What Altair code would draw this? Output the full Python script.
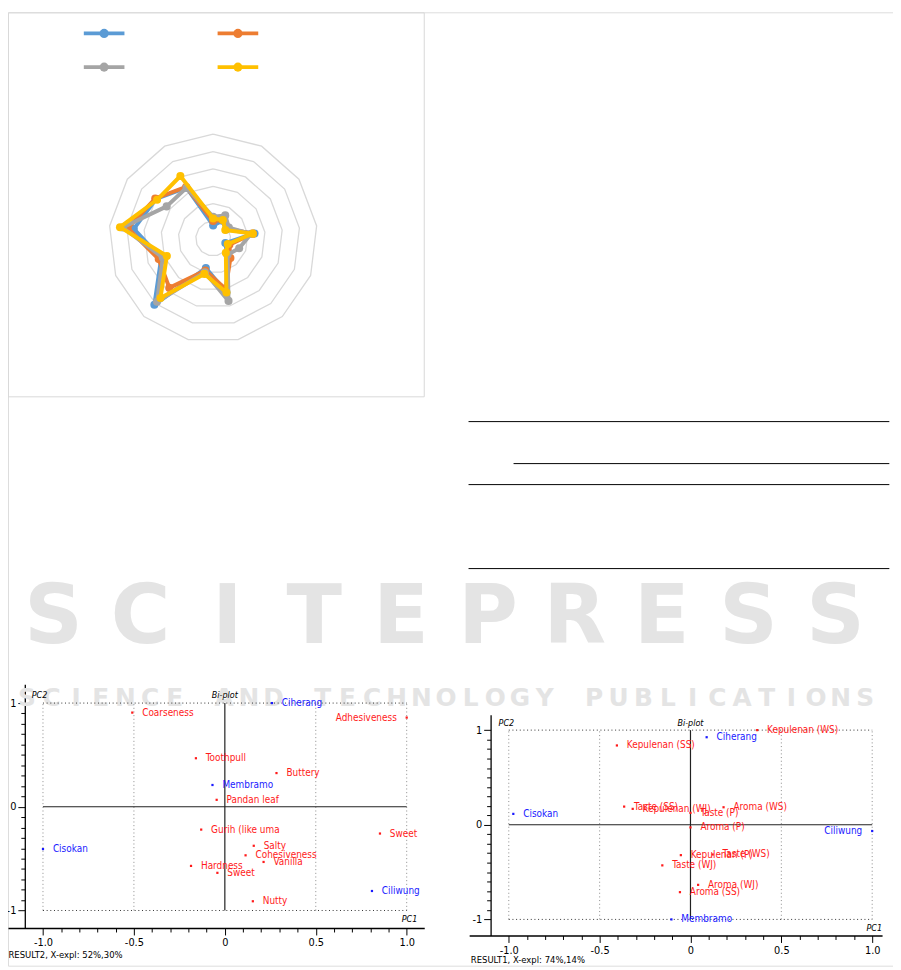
import altair as alt
import numpy as np
import pandas as pd

# ------------------------------------------------------------------ page
W, H = 893, 962
PAGE = 8  # the chart origin sits at page (8, 8)
NARROW = "'Liberation Sans Narrow', 'DejaVu Sans Condensed', 'Liberation Sans', sans-serif"

# ------------------------------------------------------------------ radar data
RADAR_ATTRIBUTES = ["Coarseness", "Adhesiveness", "Toothpull", "Buttery", "Pandan leaf",
                    "Gurih", "Sweet", "Salty", "Cohesiveness", "Vanilla", "Hardness",
                    "Sweet (2)", "Nutty"]
RADAR_RINGS = [1, 2, 3, 4, 5, 6]
SERIES_NAMES = ["Series 1", "Series 2", "Series 3", "Series 4"]
SERIES_COLORS = ["#5B9BD5", "#ED7D31", "#A5A5A5", "#FFC000"]
SERIES_1 = [0.75, 1.15, 0.90, 2.40, 0.75, 1.20, 3.20, 1.75, 5.10, 3.20, 4.60, 4.00, 3.30]
SERIES_2 = [1.00, 1.20, 1.00, 2.30, 1.00, 1.50, 3.00, 1.90, 3.80, 3.35, 4.95, 4.05, 3.35]
SERIES_3 = [1.25, 1.50, 1.10, 2.20, 1.60, 1.25, 3.70, 2.00, 4.87, 3.10, 5.25, 3.25, 3.30]
SERIES_4 = [1.15, 1.20, 0.85, 2.30, 0.90, 1.10, 3.20, 2.10, 4.57, 2.85, 5.40, 3.92, 4.06]
LEGEND_COL = [0, 1, 0, 1]
LEGEND_ROW = [0, 0, 1, 1]

# ------------------------------------------------------------------ bi-plot RESULT2
R2_NAMES = ["Ciherang", "Coarseness", "Adhesiveness", "Toothpull", "Buttery", "Membramo",
            "Pandan leaf", "Gurih (like uma", "Sweet", "Cisokan", "Salty", "Cohesiveness",
            "Vanilla", "Hardness", "Sweet", "Ciliwung", "Nutty"]
R2_PC1 = [0.259, -0.509, 1.000, -0.159, 0.284, -0.068, -0.045, -0.130, 0.853, -1.000,
          0.159, 0.114, 0.213, -0.186, -0.041, 0.809, 0.154]
R2_PC2 = [1.000, 0.908, 0.860, 0.468, 0.325, 0.210, 0.067, -0.220, -0.258, -0.408,
          -0.376, -0.468, -0.532, -0.570, -0.637, -0.812, -0.911]
R2_KIND = ["cultivar", "attr", "attr", "attr", "attr", "cultivar", "attr", "attr", "attr",
           "cultivar", "attr", "attr", "attr", "attr", "attr", "cultivar", "attr"]
R2_LABEL_LEFT = ["Adhesiveness"]
R2_CAPTION = "RESULT2, X-expl: 52%,30%"

# ------------------------------------------------------------------ bi-plot RESULT1
R1_NAMES = ["Kepulenan (WS)", "Ciherang", "Kepulenan (SS)", "Taste (SS)", "Kepulenan (WJ)",
            "Aroma (WS)", "Taste (P)", "Cisokan", "Aroma (P)", "Ciliwung", "Kepulenan (P)",
            "Taste (WS)", "Taste (WJ)", "Aroma (WJ)", "Aroma (SS)", "Membramo"]
R1_PC1 = [0.367, 0.089, -0.405, -0.365, -0.318, 0.182, 0.000, -0.975, 0.000, 1.000,
          -0.053, 0.122, -0.155, 0.042, -0.058, -0.105]
R1_PC2 = [1.000, 0.925, 0.838, 0.192, 0.168, 0.185, 0.126, 0.115, -0.028, -0.066,
          -0.321, -0.314, -0.429, -0.635, -0.712, -1.000]
R1_KIND = ["attr", "cultivar", "attr", "attr", "attr", "attr", "attr", "cultivar", "attr",
           "cultivar", "attr", "attr", "attr", "attr", "attr", "cultivar"]
R1_LABEL_LEFT = ["Ciliwung"]
R1_CAPTION = "RESULT1, X-expl: 74%,14%"

TICKS = [round(v / 10, 1) for v in range(-10, 11)]
DOTTED_X = [-1.0, -0.5, 0.5, 1.0]
DOTTED_Y = [-1.0, 1.0]
Y_AXIS_AT = -1.1
ANNOT_TEXT = ["PC2", "Bi-plot", "PC1"]

# ------------------------------------------------------------------ table rules (right column)
TABLE_RULE_ROW = [0, 2, 3, 7]
TABLE_RULE_START = [0.0, 0.107, 0.0, 0.0]

# ------------------------------------------------------------------ watermark
WM_BIG = "SCITEPRESS"
WM_SMALL = "SCIENCE AND TECHNOLOGY PUBLICATIONS"

# ------------------------------------------------------------------ layout (page pixels)
RADAR_GEO = dict(cx=215.0, cy=236.2, r=105.2)
LEGEND_GEO = dict(x=[105.0, 240.0], y=[29.3, 63.3])
FRAME_GEO = dict(x=[8.5, 428.0], y=[8.5, 396.0])
TABLE_GEO = dict(x=[472.7, 897.3], y=[421.0, 569.3])
WM_GEO = dict(big_x=[54.0, 843.0], small_x=[27.0, 873.0], y=[619.0, 700.0])
GEO2 = dict(x0=226.8, xu=183.5, y0=809.65, yu=104.65, xmin=-1.1924, xmax=1.0965,
            ymin=-1.169, ymax=1.1816,
            annot_x=[-1.062, 0.0, 1.058], annot_y=[1.079, 1.079, -1.086],
            cap_x=-1.19, cap_y=-1.427)
GEO1 = dict(x0=696.65, xu=183.35, y0=827.8, yu=95.5, xmin=-1.218, xmax=1.0544,
            ymin=-1.17, ymax=1.163,
            annot_x=[-1.056, 0.0, 1.054], annot_y=[1.076, 1.076, -1.088],
            cap_x=-1.209, cap_y=-1.426)


def lin(domain, rng):
    return alt.Scale(domain=[float(d) for d in domain], range=[float(r) for r in rng],
                     nice=False, zero=False)


def page_x(v):
    return v - PAGE


layers = []

# ------------------------------------------------------------------ watermark
wx = lin([0, len(WM_BIG) - 1], [page_x(v) for v in WM_GEO["big_x"]])
wy = lin([0, 1], [page_x(v) for v in WM_GEO["y"]])
wm_big = pd.DataFrame({"i": range(len(WM_BIG)), "ch": list(WM_BIG), "line": 0})
layers.append(alt.Chart(wm_big).mark_text(font="DejaVu Sans", fontWeight="bold", fontSize=82,
                                          color="#e4e4e4", baseline="middle").encode(
    x=alt.X("i:Q", scale=wx, axis=None), y=alt.Y("line:Q", scale=wy, axis=None), text="ch:N"))
wx2 = lin([0, len(WM_SMALL) - 1], [page_x(v) for v in WM_GEO["small_x"]])
wm_small = pd.DataFrame({"i": range(len(WM_SMALL)), "ch": list(WM_SMALL), "line": 1})
layers.append(alt.Chart(wm_small).mark_text(font="DejaVu Sans", fontWeight="bold", fontSize=25,
                                            color="#e4e4e4", baseline="middle").encode(
    x=alt.X("i:Q", scale=wx2, axis=None), y=alt.Y("line:Q", scale=wy, axis=None), text="ch:N"))

# ------------------------------------------------------------------ radar frame
fx = lin([0, 1], [page_x(v) for v in FRAME_GEO["x"]])
fy = lin([0, 1], [page_x(v) for v in FRAME_GEO["y"]])
layers.append(alt.Chart(pd.DataFrame({"a": [0], "b": [1]})).mark_rect(
    fill=None, stroke="#d9d9d9", strokeWidth=1).encode(
    x=alt.X("a:Q", scale=fx, axis=None), x2="b:Q",
    y=alt.Y("a:Q", scale=fy, axis=None), y2="b:Q"))

# ------------------------------------------------------------------ radar grid + series
top = max(RADAR_RINGS)
rx = lin([-top, top], [page_x(RADAR_GEO["cx"] - RADAR_GEO["r"]), page_x(RADAR_GEO["cx"] + RADAR_GEO["r"])])
ry = lin([-top, top], [page_x(RADAR_GEO["cy"] + RADAR_GEO["r"]), page_x(RADAR_GEO["cy"] - RADAR_GEO["r"])])
n = len(RADAR_ATTRIBUTES)
ang = 2 * np.pi * np.arange(n) / n
grid_rows = []
for k in RADAR_RINGS:
    for i in range(n + 1):
        a = ang[i % n]
        grid_rows.append({"ring": k, "i": i, "x": k * np.sin(a), "y": k * np.cos(a)})
layers.append(alt.Chart(pd.DataFrame(grid_rows)).mark_line(color="#d9d9d9", strokeWidth=1.3).encode(
    x=alt.X("x:Q", scale=rx, axis=None), y=alt.Y("y:Q", scale=ry, axis=None),
    detail="ring:N", order="i:Q"))

for name, color, vals in zip(SERIES_NAMES, SERIES_COLORS, [SERIES_1, SERIES_2, SERIES_3, SERIES_4]):
    rows = []
    for i in range(n + 1):
        j = i % n
        rows.append({"series": name, "attr": RADAR_ATTRIBUTES[j], "i": i,
                     "x": vals[j] * np.sin(ang[j]), "y": vals[j] * np.cos(ang[j])})
    df = pd.DataFrame(rows)
    layers.append(alt.Chart(df).mark_line(color=color, strokeWidth=4, strokeJoin="round",
                                          strokeCap="round").encode(
        x=alt.X("x:Q", scale=rx, axis=None), y=alt.Y("y:Q", scale=ry, axis=None), order="i:Q"))
    layers.append(alt.Chart(df[df["i"] < n]).mark_circle(color=color, size=66, opacity=1).encode(
        x=alt.X("x:Q", scale=rx, axis=None), y=alt.Y("y:Q", scale=ry, axis=None)))

# ------------------------------------------------------------------ radar legend (labels blank)
leg = pd.DataFrame({"series": SERIES_NAMES, "col": LEGEND_COL, "row": LEGEND_ROW})
lx = lin([0, 1], [page_x(v) for v in LEGEND_GEO["x"]])
ly = lin([0, 1], [page_x(v) for v in LEGEND_GEO["y"]])
lcol = alt.Color("series:N", scale=alt.Scale(domain=SERIES_NAMES, range=SERIES_COLORS), legend=None)
layers.append(alt.Chart(leg).mark_tick(orient="horizontal", size=41, thickness=3.8, opacity=1).encode(
    x=alt.X("col:Q", scale=lx, axis=None), y=alt.Y("row:Q", scale=ly, axis=None), color=lcol))
layers.append(alt.Chart(leg).mark_circle(size=85, opacity=1).encode(
    x=alt.X("col:Q", scale=lx, axis=None), y=alt.Y("row:Q", scale=ly, axis=None), color=lcol))

# ------------------------------------------------------------------ table rules
tx = lin([0, 1], [page_x(v) for v in TABLE_GEO["x"]])
ty = lin([0, max(TABLE_RULE_ROW)], [page_x(v) for v in TABLE_GEO["y"]])
tab = pd.DataFrame({"row": TABLE_RULE_ROW, "start": TABLE_RULE_START, "end": 1.0})
layers.append(alt.Chart(tab).mark_rule(color="#000", strokeWidth=1).encode(
    x=alt.X("start:Q", scale=tx, axis=None), x2="end:Q", y=alt.Y("row:Q", scale=ty, axis=None)))


# ------------------------------------------------------------------ bi-plots
MAJ_X = "abs(datum.value * 2 - round(datum.value * 2)) < 0.001"
MAJ_Y = "abs(datum.value - round(datum.value)) < 0.001"
KIND_COLOR = alt.Scale(domain=["attr", "cultivar"], range=["#ff1a1a", "#1a1aff"])


def biplot(names, pc1, pc2, kind, left_names, G, caption):
    out = []
    x_rng = [page_x(G["x0"] + G["xmin"] * G["xu"]), page_x(G["x0"] + G["xmax"] * G["xu"])]
    y_rng = [page_x(G["y0"] - G["ymin"] * G["yu"]), page_x(G["y0"] - G["ymax"] * G["yu"])]
    xs = lin([G["xmin"], G["xmax"]], x_rng)
    ys = lin([G["ymin"], G["ymax"]], y_rng)

    def X(f):
        return alt.X(f, type="quantitative", scale=xs, axis=None)

    def Y(f):
        return alt.Y(f, type="quantitative", scale=ys, axis=None)

    # axes (drawn by an invisible layer)
    x_axis = alt.Axis(
        orient="bottom", offset=y_rng[0] - H, values=TICKS, grid=False, title=None,
        labelExpr=f"{MAJ_X} ? (abs(datum.value) < 0.001 ? '0' : (datum.value < 0 ? '-' : '') + format(abs(datum.value), '.1f')) : ''",
        tickSize={"condition": {"test": MAJ_X, "value": 7}, "value": 4},
        tickColor="#000", tickWidth=1, domainColor="#000", domainWidth=1.3,
        labelFont=NARROW, labelFontSize=11, labelColor="#000", labelPadding=2,
        labelOverlap=False, labelFlush=False, labelBound=False)
    y_axis_px = page_x(G["x0"] + Y_AXIS_AT * G["xu"])
    y_axis = alt.Axis(
        orient="left", offset=-y_axis_px, values=TICKS, grid=False, title=None,
        labelExpr=f"{MAJ_Y} ? '' + round(datum.value) : ''",
        tickSize={"condition": {"test": MAJ_Y, "value": 7}, "value": 4},
        tickColor="#000", tickWidth=1, domainColor="#000", domainWidth=1.3,
        labelFont=NARROW, labelFontSize=11, labelColor="#000", labelPadding=2,
        labelOverlap=False, labelFlush=False, labelBound=False)
    ax_df = pd.DataFrame({"x": [G["xmin"], G["xmax"]], "y": [G["ymin"], G["ymax"]]})
    out.append(alt.Chart(ax_df).mark_point(opacity=0).encode(
        x=alt.X("x:Q", scale=xs, axis=x_axis), y=alt.Y("y:Q", scale=ys, axis=y_axis)))

    # dotted frame lines
    vd = pd.DataFrame({"x": DOTTED_X, "y": -1.0, "y2": 1.0})
    out.append(alt.Chart(vd).mark_rule(color="#8a8a8a", strokeWidth=1, strokeDash=[1, 2.7]).encode(
        x=X("x"), y=Y("y"), y2="y2:Q"))
    hd = pd.DataFrame({"y": DOTTED_Y, "x": -1.0, "x2": 1.0})
    out.append(alt.Chart(hd).mark_rule(color="#333", strokeWidth=1, strokeDash=[1, 2.7]).encode(
        x=X("x"), x2="x2:Q", y=Y("y")))
    # zero cross
    cross_v = pd.DataFrame({"x": [0.0], "y": [-1.0], "y2": [1.0]})
    cross_h = pd.DataFrame({"y": [0.0], "x": [-1.0], "x2": [1.0]})
    out.append(alt.Chart(cross_v).mark_rule(color="#222", strokeWidth=1.2).encode(
        x=X("x"), y=Y("y"), y2="y2:Q"))
    out.append(alt.Chart(cross_h).mark_rule(color="#222", strokeWidth=1.2).encode(
        x=X("x"), x2="x2:Q", y=Y("y")))

    df = pd.DataFrame({"label": names, "pc1": pc1, "pc2": pc2, "kind": kind})
    df["side"] = np.where(df["label"].isin(left_names), "left", "right")
    col = alt.Color("kind:N", scale=KIND_COLOR, legend=None)
    out.append(alt.Chart(df).mark_square(size=5, opacity=1).encode(x=X("pc1"), y=Y("pc2"), color=col))
    out.append(alt.Chart(df[df["side"] == "right"]).mark_text(
        align="left", baseline="middle", dx=10, font=NARROW, fontSize=10).encode(
        x=X("pc1"), y=Y("pc2"), text="label:N", color=col))
    out.append(alt.Chart(df[df["side"] == "left"]).mark_text(
        align="right", baseline="middle", dx=-10, font=NARROW, fontSize=10).encode(
        x=X("pc1"), y=Y("pc2"), text="label:N", color=col))

    # annotations
    ann = pd.DataFrame({"t": ANNOT_TEXT, "x": G["annot_x"], "y": G["annot_y"]})
    for t, al in zip(ANNOT_TEXT, ["left", "center", "right"]):
        out.append(alt.Chart(ann[ann["t"] == t]).mark_text(
            align=al, baseline="middle", font=NARROW, fontSize=9, fontStyle="italic",
            color="#000").encode(x=X("x"), y=Y("y"), text="t:N"))
    cap = pd.DataFrame({"t": [caption], "x": [G["cap_x"]], "y": [G["cap_y"]]})
    out.append(alt.Chart(cap).mark_text(align="left", baseline="middle", font=NARROW,
                                        fontSize=9.5, color="#000").encode(
        x=X("x"), y=Y("y"), text="t:N"))
    return out


layers += biplot(R2_NAMES, R2_PC1, R2_PC2, R2_KIND, R2_LABEL_LEFT, GEO2, R2_CAPTION)
layers += biplot(R1_NAMES, R1_PC1, R1_PC2, R1_KIND, R1_LABEL_LEFT, GEO1, R1_CAPTION)

chart = alt.layer(*layers).resolve_scale(
    x="independent", y="independent", color="independent"
).properties(
    width=W, height=H, padding=0, autosize=alt.AutoSizeParams(type="none")
).configure_view(stroke=None).configure(background="white")

chart.save("out.html", embed_options={"renderer": "svg", "actions": False})
